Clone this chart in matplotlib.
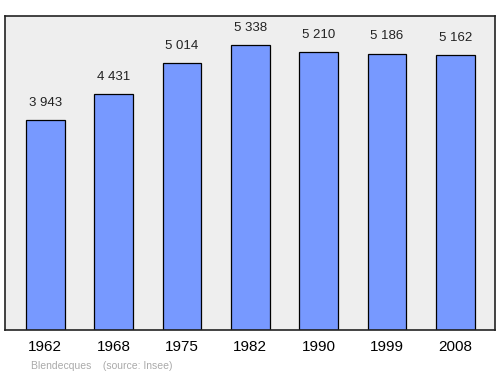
import matplotlib
matplotlib.use('Agg')
import matplotlib.pyplot as plt

years = ['1962', '1968', '1975', '1982', '1990', '1999', '2008']
population = [3943, 4431, 5014, 5338, 5210, 5186, 5162]
value_labels = ['3 943', '4 431', '5 014', '5 338', '5 210', '5 186', '5 162']

plt.rcParams['font.family'] = ['Liberation Sans', 'DejaVu Sans']

fig = plt.figure(figsize=(5, 3.74), dpi=100)
ax = fig.add_axes([0.01, 0.1176, 0.98, 0.8396])
ax.set_facecolor('#eeeeee')

x = range(len(years))
ax.bar(x, population, width=0.57, color='#7799ff', edgecolor='black', linewidth=0.9)

# value on top of each bar
for xi, v, lab in zip(x, population, value_labels):
    ax.annotate(lab, (xi, v), xytext=(0, 8), textcoords='offset points',
                ha='center', va='bottom', fontsize=9.5, color='#222222')

ax.set_xlim(-0.59, 6.58)
ax.set_ylim(0, 5890)
ax.set_yticks([])
ax.set_xticks(list(x))
ax.set_xticklabels(years, fontsize=11)
ax.tick_params(axis='x', length=0, pad=7)
for s in ax.spines.values():
    s.set_linewidth(1.2)
    s.set_color('#222222')

fig.text(0.062, 0.014, 'Blendecques    (source: Insee)', fontsize=7.5, color='#aaaaaa')

fig.savefig('out.png', dpi=100)
